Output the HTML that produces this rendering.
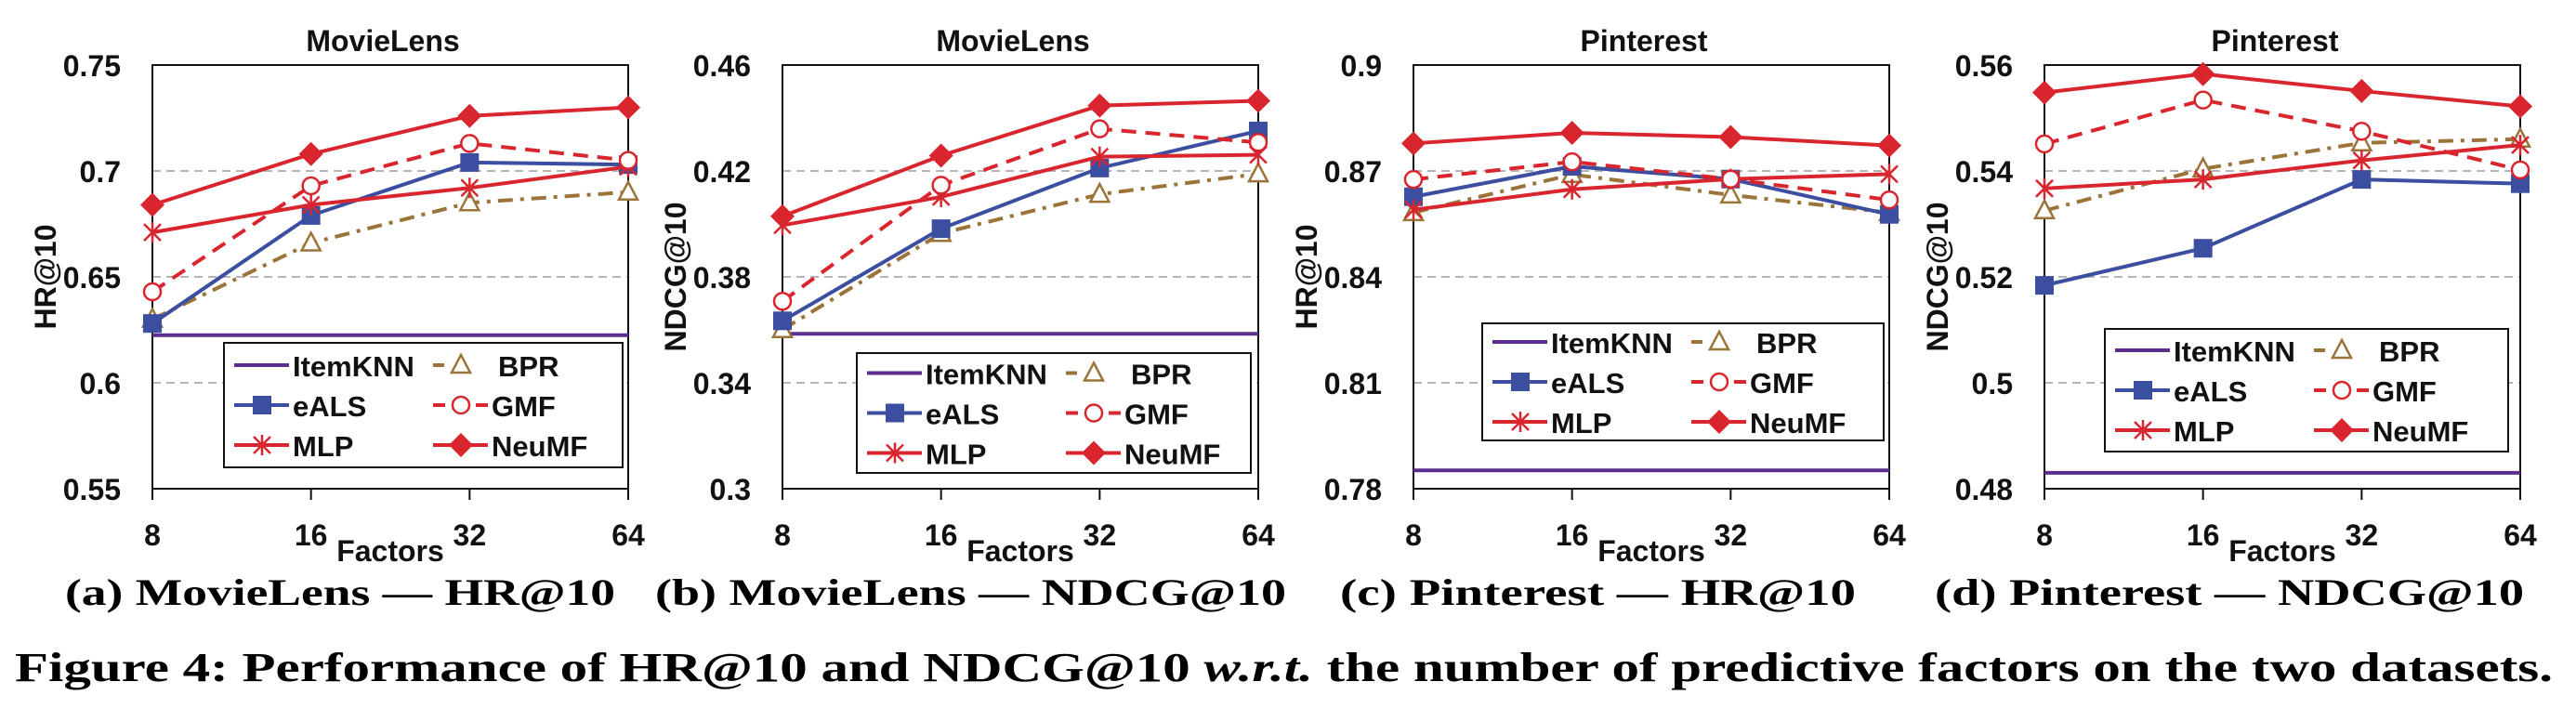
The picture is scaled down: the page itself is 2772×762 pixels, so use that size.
<!DOCTYPE html>
<html><head><meta charset="utf-8"><style>
html,body{margin:0;padding:0;background:#fff;}
svg{display:block;}
.tk{font-family:"Liberation Sans",sans-serif;font-weight:bold;font-size:32px;fill:#111;}
.lg{font-family:"Liberation Sans",sans-serif;font-weight:bold;font-size:31px;fill:#111;}
.cap{font-family:"Liberation Serif",serif;font-weight:bold;fill:#000;}
</style></head><body>
<svg id="fig" width="2772" height="762" viewBox="0 0 2772 762" xmlns="http://www.w3.org/2000/svg">
<g id="panels"></g>
<text class="cap" x="70" y="651" font-size="40" textLength="592" lengthAdjust="spacingAndGlyphs">(a) MovieLens — HR@10</text>
<text class="cap" x="705" y="651" font-size="40" textLength="679" lengthAdjust="spacingAndGlyphs">(b) MovieLens — NDCG@10</text>
<text class="cap" x="1442" y="651" font-size="40" textLength="555" lengthAdjust="spacingAndGlyphs">(c) Pinterest — HR@10</text>
<text class="cap" x="2082" y="651" font-size="40" textLength="634" lengthAdjust="spacingAndGlyphs">(d) Pinterest — NDCG@10</text>
<text class="cap" x="16" y="733" font-size="44" textLength="2731" lengthAdjust="spacingAndGlyphs">Figure 4: Performance of HR@10 and NDCG@10 <tspan font-style="italic">w.r.t.</tspan> the number of predictive factors on the two datasets.</text>
</svg>
<script>
const factors = ["8","16","32","64"];
const titles = ["MovieLens","MovieLens","Pinterest","Pinterest"];
const yTitles = ["HR@10","NDCG@10","HR@10","NDCG@10"];
const yTicksA = ["0.55","0.6","0.65","0.7","0.75"];
const yTicksB = ["0.3","0.34","0.38","0.42","0.46"];
const yTicksC = ["0.78","0.81","0.84","0.87","0.9"];
const yTicksD = ["0.48","0.5","0.52","0.54","0.56"];
const seriesNames = ["ItemKNN","BPR","eALS","GMF","MLP","NeuMF"];
// Panel a: MovieLens HR@10
const itemknnA = 0.6225;
const bprA = [0.630,0.666,0.685,0.690];
const ealsA = [0.628,0.679,0.704,0.703];
const gmfA = [0.643,0.693,0.713,0.705];
const mlpA = [0.671,0.684,0.692,0.702];
const neumfA = [0.684,0.708,0.726,0.730];
// Panel b: MovieLens NDCG@10
const itemknnB = 0.3585;
const bprB = [0.3601,0.3964,0.4112,0.4189];
const ealsB = [0.3634,0.3982,0.4211,0.4351];
const gmfB = [0.3708,0.4146,0.4359,0.4308];
const mlpB = [0.3995,0.4102,0.4254,0.4261];
const neumfB = [0.4029,0.4258,0.4447,0.4465];
// Panel c: Pinterest HR@10
const itemknnC = 0.7852;
const bprC = [0.8582,0.8690,0.8632,0.8582];
const ealsC = [0.8627,0.8713,0.8677,0.8577];
const gmfC = [0.8676,0.8726,0.8677,0.8618];
const mlpC = [0.8590,0.8648,0.8677,0.8691];
const neumfC = [0.8778,0.8808,0.8796,0.8772];
// Panel d: Pinterest NDCG@10
const itemknnD = 0.483;
const bprD = [0.5325,0.5404,0.5453,0.5460];
const ealsD = [0.5184,0.5254,0.5384,0.5376];
const gmfD = [0.5451,0.5534,0.5475,0.5402];
const mlpD = [0.5367,0.5384,0.5420,0.5449];
const neumfD = [0.5548,0.5583,0.5551,0.5522];

const NS="http://www.w3.org/2000/svg";
const RED="#d9262e", BLUE="#3b4ea0", BROWN="#9a7438", PURPLE="#5b2d8e";
const styles={
 ItemKNN:{c:PURPLE,dash:null,m:null},
 BPR:{c:BROWN,dash:"16 8 4 8",m:"tri"},
 eALS:{c:BLUE,dash:null,m:"sq"},
 GMF:{c:RED,dash:"16 10",m:"circ"},
 MLP:{c:RED,dash:null,m:"star"},
 NeuMF:{c:RED,dash:null,m:"dia"}
};
function mk(tag,attrs,parent){const e=document.createElementNS(NS,tag);for(const k in attrs)e.setAttribute(k,attrs[k]);parent.appendChild(e);return e;}
function marker(g,type,x,y,c){
 let e;
 if(type==="dia"){e=mk("polygon",{points:`${x},${y-13} ${x+13},${y} ${x},${y+13} ${x-13},${y}`,fill:c},g);}
 else if(type==="sq"){e=mk("rect",{x:x-10,y:y-10,width:20,height:20,fill:c},g);}
 else if(type==="circ"){e=mk("circle",{cx:x,cy:y,r:9,fill:"#fff",stroke:c,"stroke-width":2.5},g);}
 else if(type==="tri"){e=mk("polygon",{points:`${x},${y-11} ${x+10},${y+8} ${x-10},${y+8}`,fill:"#fff",stroke:c,"stroke-width":2.5},g);}
 else if(type==="star"){e=mk("path",{d:`M${x-9} ${y-9}L${x+9} ${y+9}M${x-9} ${y+9}L${x+9} ${y-9}M${x} ${y-11}L${x} ${y+11}`,stroke:c,"stroke-width":2.5,fill:"none"},g);}
 
 
}
const panels=[
 {L:164,tick:yTicksA,min:0.55,max:0.75,knn:itemknnA,d:{BPR:bprA,eALS:ealsA,GMF:gmfA,MLP:mlpA,NeuMF:neumfA},lg:[241,369,429,134]},
 {L:842,tick:yTicksB,min:0.30,max:0.46,knn:itemknnB,d:{BPR:bprB,eALS:ealsB,GMF:gmfB,MLP:mlpB,NeuMF:neumfB},lg:[922,380,424,129]},
 {L:1521,tick:yTicksC,min:0.78,max:0.90,knn:itemknnC,d:{BPR:bprC,eALS:ealsC,GMF:gmfC,MLP:mlpC,NeuMF:neumfC},lg:[1595,348,432,126]},
 {L:2200,tick:yTicksD,min:0.48,max:0.56,knn:itemknnD,d:{BPR:bprD,eALS:ealsD,GMF:gmfD,MLP:mlpD,NeuMF:neumfD},lg:[2265,354,434,132]}
];
const TOP=70,BOT=526,W=512;
const root=document.getElementById("panels");
panels.forEach((p,pi)=>{
 const g=mk("g",{},root);
 
 
 const xs=i=>p.L+i*W/(factors.length-1);
 const ys=v=>BOT-(v-p.min)/(p.max-p.min)*(BOT-TOP);
 p.tick.forEach((t,i)=>{
  const v=p.min+i*(p.max-p.min)/(p.tick.length-1);
  const y=ys(v);
  if(i>0&&i<p.tick.length-1){const gl=mk("line",{x1:p.L,x2:p.L+W,y1:y,y2:y,stroke:"#b5b5b5","stroke-width":2,"stroke-dasharray":"9 6"},g);
   
   }
  const tx=mk("text",{x:p.L-34,y:y+12,"text-anchor":"end",class:"tk","font-size":"34"},g);tx.textContent=t;
  
  
 });
 const fr=mk("rect",{x:p.L,y:TOP,width:W,height:BOT-TOP,fill:"none",stroke:"#111","stroke-width":2},g);
 
 
 factors.forEach((f,i)=>{
  const x=xs(i);
  const tl=mk("line",{x1:x,x2:x,y1:BOT,y2:BOT+12,stroke:"#111","stroke-width":2},g);
  
  
  const tx=mk("text",{x:x,y:587,"text-anchor":"middle",class:"tk","font-size":"34"},g);tx.textContent=f;
  
  
 });
 const xt=mk("text",{x:(xs(1)+xs(2))/2,y:604,"text-anchor":"middle",class:"tk","font-size":"33"},g);xt.textContent="Factors";
 
 
 const tt=mk("text",{x:p.L+W/2-8,y:55,"text-anchor":"middle",class:"tk","font-size":"33"},g);tt.textContent=titles[pi];
 
 
 const yt=mk("text",{x:0,y:0,"text-anchor":"middle",class:"tk","font-size":"34",transform:`translate(${p.L-104},298) rotate(-90)`},g);yt.textContent=yTitles[pi];
 
 
 const kl=mk("line",{x1:p.L,x2:p.L+W,y1:ys(p.knn),y2:ys(p.knn),stroke:PURPLE,"stroke-width":4},g);
 
 
 ["BPR","eALS","MLP","GMF","NeuMF"].forEach(n=>{
  const s=styles[n],vals=p.d[n];
  const pts=vals.map((v,i)=>xs(i)+","+ys(v)).join(" ");
  const a={points:pts,fill:"none",stroke:s.c,"stroke-width":4};
  if(s.dash)a["stroke-dasharray"]=s.dash;
  const pl=mk("polyline",a,g);
  
  
  vals.forEach((v,i)=>marker(g,s.m,xs(i),ys(v),s.c));
 });
 const [lx,ly,lw,lh]=p.lg;
 const lg=mk("g",{},g);
 
 
 mk("rect",{x:lx,y:ly,width:lw,height:lh,fill:"#fff",stroke:"#111","stroke-width":2},lg);
 const rowY=[22,65,108];
 seriesNames.forEach((n,i)=>{
  const col=i%2,row=Math.floor(i/2);
  const x0=lx+(col?225:11),y=ly+rowY[row]+(lh-130)/2;
  const s=styles[n];
  const a={x1:x0,x2:x0+59,y1:y,y2:y,stroke:s.c,"stroke-width":4};
  if(n==="BPR")a["stroke-dasharray"]="12 11 0 36 12";
  if(n==="GMF")a["stroke-dasharray"]="13 33 13";
  mk("line",a,lg);
  if(s.m)marker(lg,s.m,x0+30,y,s.c);
  const t=mk("text",{x:x0+(col&&n==="BPR"?70:63),y:y+12,class:"lg"},lg);t.textContent=n;
  
  
 });
});
</script>
</body></html>
